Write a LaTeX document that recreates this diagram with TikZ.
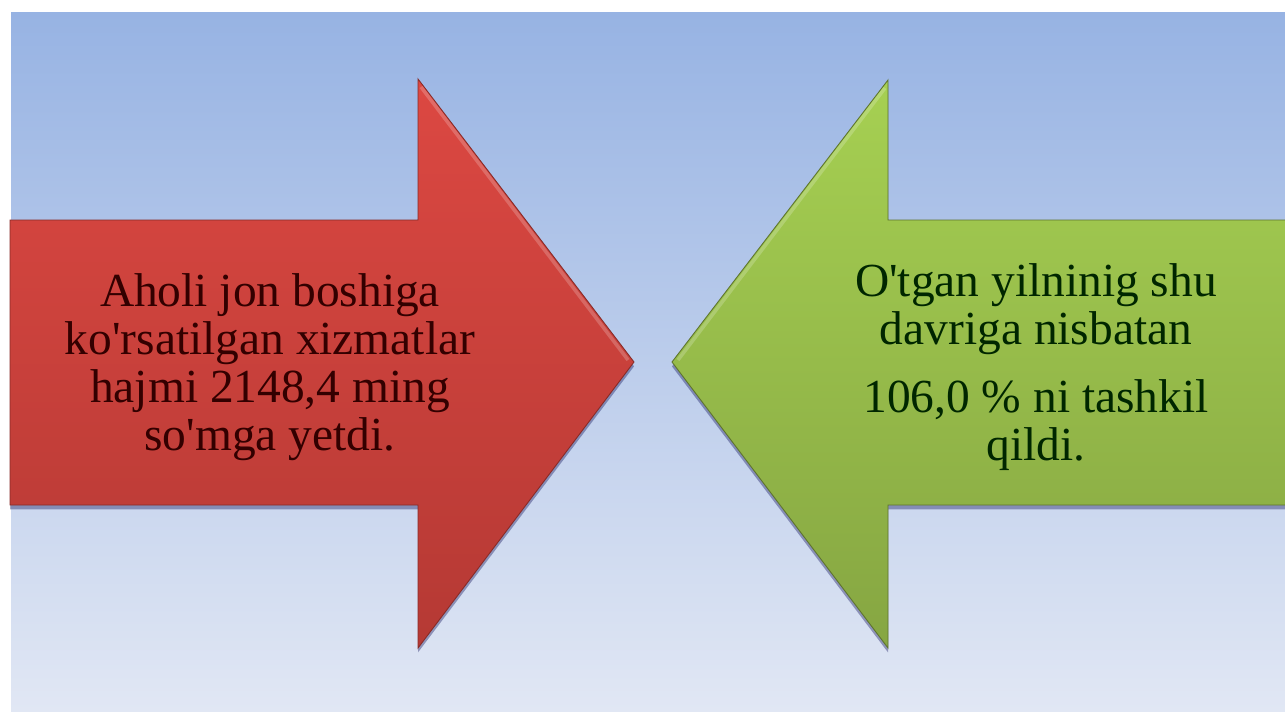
\documentclass[tikz,border=0pt]{standalone}
\usepackage{fontspec}
\setmainfont{Liberation Serif}
\usetikzlibrary{shadows}

\definecolor{bgtop}{HTML}{97B3E3}
\definecolor{bgbot}{HTML}{E1E7F4}
\definecolor{redtop}{HTML}{DC4842}
\definecolor{redbot}{HTML}{B53934}
\definecolor{greentop}{HTML}{A6D052}
\definecolor{greenbot}{HTML}{86A642}

\newcommand{\apos}{\textquotesingle}

\tikzset{
  arrowshadow/.style={drop shadow={shadow xshift=0pt, shadow yshift=-2.5pt, opacity=.35, fill=black!70!blue}},
  redarrow/.style={top color=redtop, bottom color=redbot, draw=redbot!75!black, line width=.5pt, arrowshadow},
  greenarrow/.style={top color=greentop, bottom color=greenbot, draw=greenbot!70!black, line width=.5pt, arrowshadow},
  bevel/.style={draw=white, opacity=.2, line width=2pt},
  txt/.style={align=center, font=\fontsize{27}{27.3}\selectfont}
}

\begin{document}
\begin{tikzpicture}[x=0.02cm, y=-0.02cm]
  \useasboundingbox (0,0) rectangle (1285,711);
  \clip (0,0) rectangle (1285,711);
  \shade[top color=bgtop, bottom color=bgbot] (11,12) rectangle (1285,711);

  \coordinate (redtip) at (634,362);
  \coordinate (greentip) at (672,362);

  \draw[redarrow] (10,220) -- (418,220) -- (418,79) -- (redtip) -- (418,648)
    -- (418,505) -- (10,505) -- cycle;
  \draw[bevel] (421,87) -- (628,360);
  \draw[greenarrow] (1295,220) -- (888,220) -- (888,80) -- (greentip) -- (888,648)
    -- (888,505) -- (1295,505) -- cycle;
  \draw[bevel] (885,88) -- (678,360);

  \node[txt, text=red!20!black] (aholi) at (270,367)
    {Aholi jon boshiga\\ko\apos rsatilgan xizmatlar\\hajmi 2148,4 ming\\so\apos mga yetdi.};
  \node[txt, text=green!15!black] (otgan) at (1036,367)
    {O\apos tgan yilninig shu\\davriga nisbatan\\[11pt]106,0 \% ni tashkil\\qildi.};
\end{tikzpicture}
\end{document}
